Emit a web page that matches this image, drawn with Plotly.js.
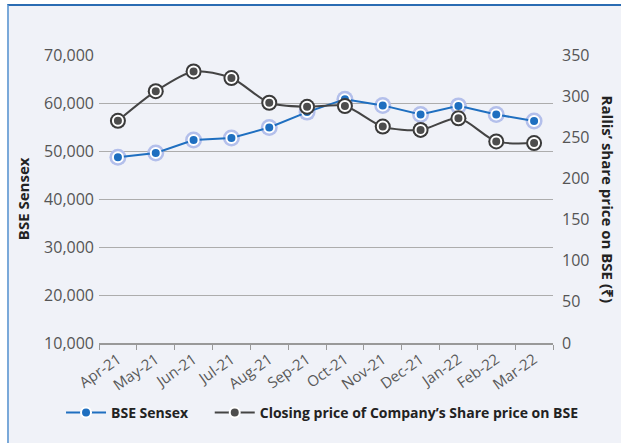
<!DOCTYPE html>
<html>
<head>
<meta charset="utf-8">
<script src="https://cdn.plot.ly/plotly-3.0.1.min.js"></script>
<style>
  html, body { margin: 0; padding: 0; background: #ffffff; width: 621px; height: 443px; overflow: hidden; }
  #wrap { position: absolute; left: 7px; top: 4px; width: 612px; height: 437px;
          border-left: 2px solid #7aa9d9; border-top: 2px solid #2a6cb3; background: #f0f2f8; }
  #chart { width: 612px; height: 437px; }
</style>
</head>
<body>
<div id="wrap"><div id="chart"></div></div>
<script>
const months = ["Apr-21","May-21","Jun-21","Jul-21","Aug-21","Sep-21","Oct-21","Nov-21","Dec-21","Jan-22","Feb-22","Mar-22"];
const sensex = [48700, 49600, 52300, 52700, 54900, 58100, 60800, 59500, 57600, 59400, 57600, 56250];
const rallisPrice = [270, 306, 330, 322, 292, 287, 288, 263, 259, 273, 245, 243];
const leftTicks = [10000, 20000, 30000, 40000, 50000, 60000, 70000];
const rightTicks = [0, 50, 100, 150, 200, 250, 300, 350];

const FONT = "Open Sans, sans-serif";
const traces = [
  { x: months, y: rallisPrice, yaxis: 'y2', type: 'scatter', mode: 'markers',
    marker: { size: 16, color: '#3a3a3a' }, showlegend: false, hoverinfo: 'skip' },
  { x: months, y: rallisPrice, yaxis: 'y2', type: 'scatter', mode: 'lines+markers',
    name: 'Closing price of Company’s Share price on BSE', legend: 'legend2',
    line: { color: '#444444', width: 2, shape: 'spline', smoothing: 0.8 },
    marker: { size: 10, color: '#4d4d4d', line: { color: '#ffffff', width: 2 } } },
  { x: months, y: sensex, type: 'scatter', mode: 'markers',
    marker: { size: 17, color: '#b3bfeb' }, showlegend: false, hoverinfo: 'skip' },
  { x: months, y: sensex, type: 'scatter', mode: 'lines+markers', name: 'BSE Sensex', legend: 'legend',
    line: { color: '#1f6fc0', width: 2 },
    marker: { size: 10, color: '#1f6fc0', line: { color: '#ffffff', width: 2 } } }
];

const legendBase = {
  orientation: 'h', xref: 'container', yref: 'container', xanchor: 'left',
  y: 0.069, yanchor: 'middle',
  font: { family: FONT, size: 14, color: '#222222', weight: 'bold' },
  itemwidth: 40, bgcolor: 'rgba(0,0,0,0)'
};

const layout = {
  width: 612, height: 437,
  margin: { l: 90, r: 68, t: 49, b: 100, autoexpand: false },
  paper_bgcolor: 'rgba(0,0,0,0)', plot_bgcolor: 'rgba(0,0,0,0)',
  font: { family: FONT, color: '#555555', size: 15 },
  showlegend: true,
  legend: Object.assign({}, legendBase, { x: 0.085 }),
  legend2: Object.assign({}, legendBase, { x: 0.328 }),
  xaxis: { type: 'category', tickangle: -35, tickson: 'boundaries', ticks: 'outside', ticklen: 5,
           tickcolor: '#999999', showline: true, linecolor: '#999999', linewidth: 2,
           showgrid: false, tickfont: { family: FONT, size: 15, color: '#5a5a5a' },
           range: [-0.5, 11.5], fixedrange: true },
  yaxis: { range: [10000, 70000], tickvals: leftTicks, ticktext: leftTicks.map(v => v.toLocaleString('en-US')),
           showgrid: true, gridcolor: '#adadad', gridwidth: 1, zeroline: false, showline: false,
           ticks: '', ticklabelstandoff: 4, tickfont: { family: FONT, size: 16, color: '#555555' } },
  yaxis2: { range: [0, 350], tickvals: rightTicks, overlaying: 'y', side: 'right', showgrid: false,
            zeroline: false, showline: false, ticks: '', ticklabelstandoff: 8,
            tickfont: { family: FONT, size: 16, color: '#555555' } },
  annotations: [
    { text: 'BSE Sensex', xref: 'paper', yref: 'paper', x: -0.167, y: 0.5, xanchor: 'center', yanchor: 'middle',
      textangle: -90, showarrow: false, font: { family: FONT, size: 15, color: '#222222', weight: 'bold' } },
    { text: 'Rallis’ share price on BSE (₹)', xref: 'paper', yref: 'paper', x: 1.122, y: 0.5, xanchor: 'center', yanchor: 'middle',
      textangle: 90, showarrow: false, font: { family: FONT, size: 15, color: '#222222', weight: 'bold' } }
  ]
};

Plotly.newPlot('chart', traces, layout, { displayModeBar: false, staticPlot: true });
</script>
</body>
</html>
